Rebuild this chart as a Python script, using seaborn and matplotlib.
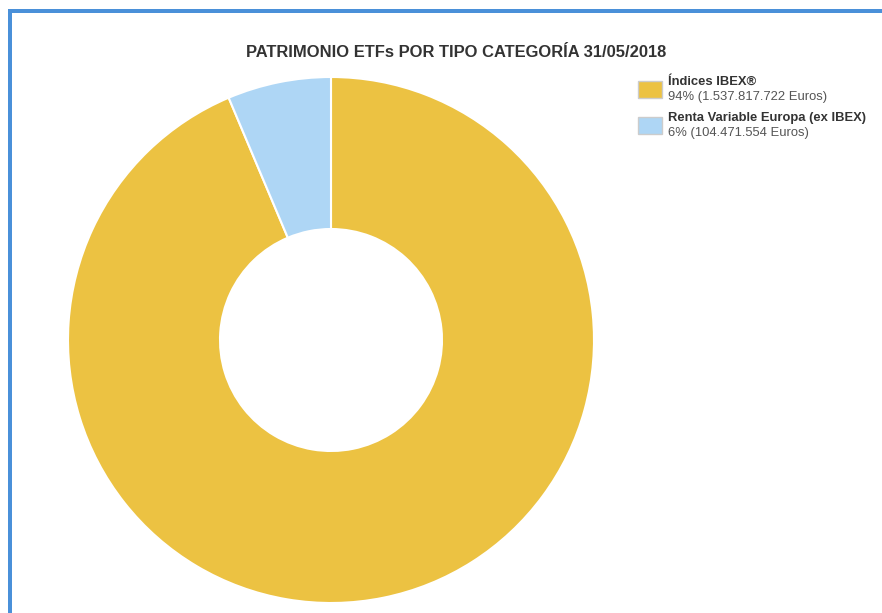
import matplotlib
matplotlib.use("Agg")
import matplotlib.pyplot as plt
import seaborn as sns
from matplotlib.patches import Rectangle

categories = ["Índices IBEX®", "Renta Variable Europa (ex IBEX)"]
values = [1537817722, 104471554]
pct_labels = ["94%", "6%"]
amount_labels = ["1.537.817.722", "104.471.554"]
colors = ["#ECC242", "#AED6F5"]
title = "PATRIMONIO ETFs POR TIPO CATEGORÍA 31/05/2018"

sns.set_theme(style="white")
plt.rcParams["font.family"] = ["Liberation Sans", "DejaVu Sans"]

W, H = 882, 613
fig = plt.figure(figsize=(W / 100, H / 100), dpi=100)
fig.patch.set_facecolor("white")

# border
fig.add_artist(Rectangle((8 / W, 0), 3.5 / W, (H - 9) / H, transform=fig.transFigure,
                         facecolor="#4A90D9", edgecolor="none"))
fig.add_artist(Rectangle((8 / W, (H - 12.5) / H), 1, 3.5 / H, transform=fig.transFigure,
                         facecolor="#4A90D9", edgecolor="none"))

cx, cy, r = 331, 340, 263
ax = fig.add_axes([(cx - r) / W, (H - cy - r) / H, 2 * r / W, 2 * r / H])
ax.pie(values, colors=colors, startangle=90, counterclock=False,
       radius=1.0,
       wedgeprops=dict(width=1 - 111 / 263, edgecolor="white", linewidth=1.5))
ax.set_xlim(-1, 1)
ax.set_ylim(-1, 1)
ax.set_aspect("equal")
ax.axis("off")

fig.text(456 / W, 1 - 52.5 / H, title, ha="center", va="center",
         fontsize=11.9, fontweight="bold", color="#333333")

ys = [81, 117]
for i, (cat, p, a, c) in enumerate(zip(categories, pct_labels, amount_labels, colors)):
    y0 = ys[i]
    fig.add_artist(Rectangle((638 / W, 1 - (y0 + 17) / H), 24 / W, 17 / H,
                             transform=fig.transFigure, facecolor=c,
                             edgecolor="#CCCCCC", linewidth=1))
    fig.text(668 / W, 1 - (y0 + 1) / H, cat, ha="left", va="center",
             fontsize=9.4, fontweight="bold", color="#333333")
    fig.text(668 / W, 1 - (y0 + 16) / H, f"{p} ({a} Euros)", ha="left", va="center",
             fontsize=9.4, color="#555555")

fig.savefig("out.png", dpi=100)
